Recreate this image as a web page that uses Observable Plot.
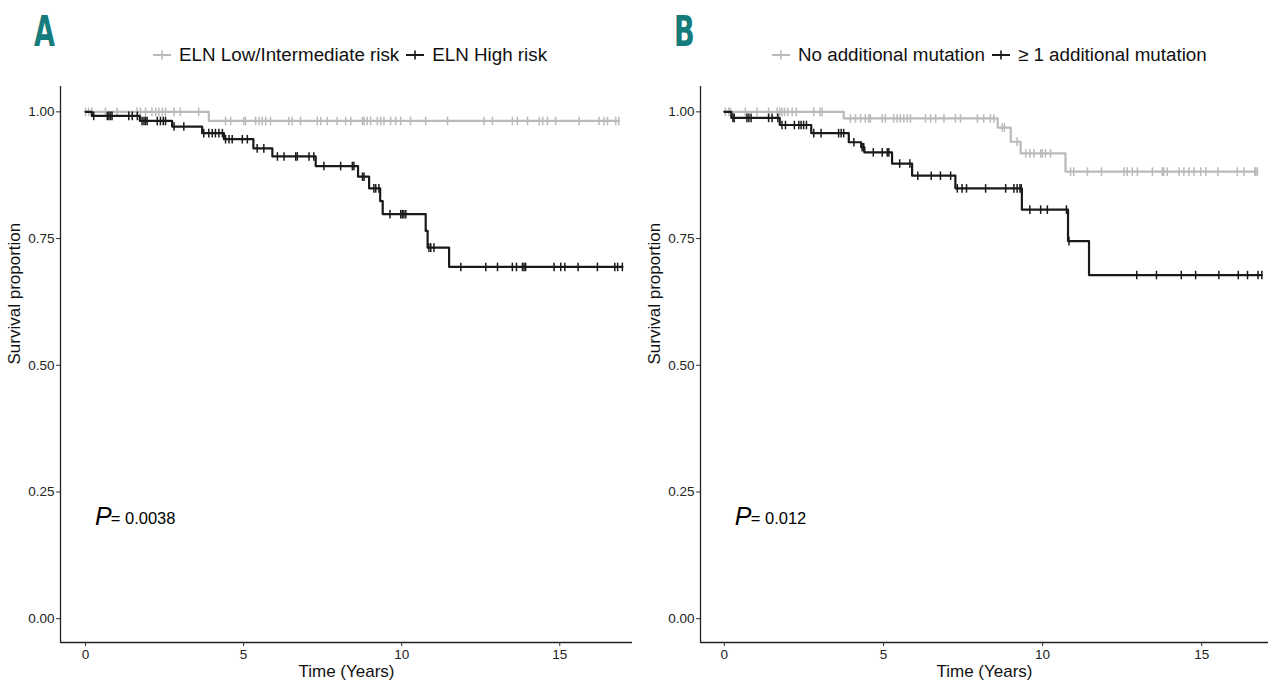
<!DOCTYPE html>
<html><head><meta charset="utf-8">
<script src="https://cdn.jsdelivr.net/npm/d3@7"></script>
<script src="https://cdn.jsdelivr.net/npm/@observablehq/plot@0.6"></script>
<style>
body{margin:0;background:#fff;font-family:"Liberation Sans",Arial,sans-serif;}
#wrap{display:flex;width:1280px;height:696px;overflow:hidden;}
.panel{width:640px;position:relative;}
.head{height:80px;position:relative;}
.letter{position:absolute;left:34px;top:6px;font-family:"DejaVu Sans Condensed","DejaVu Sans";font-weight:bold;font-size:43px;color:#157c7c;transform:scaleX(0.7);transform-origin:left top;}
.legend{position:absolute;top:45px;display:flex;align-items:center;font-size:18.8px;color:#111;white-space:nowrap;line-height:20px;}
.legend .item{display:flex;align-items:center;margin-right:7px;}
.legend svg{margin-right:8px;}
</style></head>
<body>
<div id="wrap">
  <div class="panel" id="pA"><div class="head"><div class="letter">A</div><div class="legend" id="legA" style="left:153px"></div></div></div>
  <div class="panel" id="pB"><div class="head"><div class="letter">B</div><div class="legend" id="legB" style="left:132px"></div></div></div>
</div>
<script>
// ---------- data ----------
const xTicks = [0, 5, 10, 15];
const yTicks = [0, 0.25, 0.5, 0.75, 1];

// Panel A
const A_names = ["ELN Low/Intermediate risk", "ELN High risk"];
const A_low_times = [0, 3.9];
const A_low_surv  = [1.0, 0.982];
const A_low_end = 16.87;
const A_low_censor = [0, 0.1, 0.2, 0.63, 1.0, 1.63, 1.74, 1.9, 2.1, 2.22, 2.32, 2.43, 2.53, 2.8, 3.0, 3.58, 4.43, 4.59, 5.01, 5.06, 5.38, 5.49, 5.59, 5.70, 5.85, 6.43, 6.54, 6.80, 7.33, 7.44, 7.65, 7.96, 8.23, 8.39, 8.76, 8.81, 8.91, 9.02, 9.23, 9.34, 9.44, 9.65, 9.81, 9.97, 10.28, 10.76, 11.45, 12.6, 12.87, 13.5, 13.66, 13.98, 14.35, 14.46, 14.61, 14.87, 15.61, 16.24, 16.40, 16.51, 16.77, 16.87];
const A_high_times = [0, 0.2, 1.72, 2.74, 3.69, 4.38, 5.31, 5.91, 7.28, 8.62, 8.97, 9.32, 9.4, 10.76, 10.82, 11.5];
const A_high_surv  = [1.0, 0.992, 0.982, 0.971, 0.958, 0.946, 0.928, 0.912, 0.893, 0.872, 0.849, 0.824, 0.798, 0.765, 0.732, 0.694];
const A_high_end = 16.98;
const A_high_censor = [0.26, 0.69, 0.74, 0.79, 0.84, 1.37, 1.48, 1.64, 1.79, 1.85, 1.90, 1.95, 2.27, 2.37, 2.46, 2.53, 2.80, 3.11, 3.74, 3.90, 4.01, 4.11, 4.22, 4.33, 4.43, 4.54, 4.64, 4.96, 5.12, 5.43, 5.64, 6.07, 6.28, 6.65, 6.70, 7.07, 7.22, 7.54, 8.07, 8.44, 8.49, 8.76, 8.81, 9.12, 9.18, 9.28, 9.63, 9.97, 10.02, 10.07, 10.13, 10.86, 10.92, 11.02, 11.87, 12.66, 13.03, 13.5, 13.63, 13.82, 13.87, 13.92, 14.82, 15.03, 15.16, 15.58, 16.19, 16.74, 16.83, 16.98];
const A_p = "0.0038";

// Panel B
const B_names = ["No additional mutation", "\u2265 1 additional mutation"];
const B_low_times = [0, 3.75, 8.59, 9.0, 9.31, 10.72];
const B_low_surv  = [1.0, 0.987, 0.969, 0.941, 0.918, 0.882];
const B_low_end = 16.75;
const B_low_censor = [0.03, 0.14, 0.19, 0.66, 1.03, 1.39, 1.66, 1.74, 1.81, 1.89, 1.99, 2.13, 2.26, 2.81, 3.0, 3.07, 3.96, 4.12, 4.28, 4.43, 4.54, 4.59, 4.96, 5.06, 5.32, 5.43, 5.53, 5.64, 5.75, 5.85, 6.32, 6.48, 6.64, 6.90, 7.26, 7.42, 7.95, 8.15, 8.36, 8.47, 8.73, 8.80, 9.2, 9.47, 9.60, 9.73, 9.94, 9.99, 10.09, 10.25, 10.88, 10.98, 11.41, 11.85, 12.56, 12.66, 12.82, 12.98, 13.45, 13.76, 13.81, 13.92, 14.29, 14.44, 14.60, 14.76, 14.97, 15.13, 15.51, 16.12, 16.33, 16.67, 16.70, 16.75];
const B_high_times = [0, 0.22, 1.74, 2.73, 3.91, 4.3, 4.4, 5.27, 5.90, 7.26, 9.35, 10.8, 11.46];
const B_high_surv  = [1.0, 0.988, 0.974, 0.958, 0.940, 0.930, 0.920, 0.898, 0.874, 0.849, 0.807, 0.745, 0.678];
const B_high_end = 16.89;
const B_high_censor = [0.27, 0.31, 0.71, 0.77, 0.84, 1.39, 1.50, 1.68, 1.81, 1.92, 2.20, 2.34, 2.41, 2.49, 2.58, 2.81, 3.04, 3.59, 3.67, 3.75, 4.07, 4.33, 4.38, 4.68, 4.96, 5.12, 5.17, 5.51, 5.83, 6.08, 6.50, 6.79, 7.11, 7.32, 7.47, 7.61, 8.21, 8.84, 9.10, 9.20, 9.29, 9.33, 9.60, 9.94, 10.15, 10.75, 10.83, 12.96, 13.58, 14.36, 14.81, 15.54, 16.15, 16.44, 16.77, 16.89];
const B_p = "0.012";

// ---------- styling ----------
const GREY = "#bababa", BLACK = "#1a1a1a";
const vbar = {draw(ctx, size){ const r = Math.sqrt(size / Math.PI); ctx.moveTo(0, -r); ctx.lineTo(0, r); }};

function stepData(times, surv, end){
  const pts = times.map((t, i) => ({t, s: surv[i]}));
  pts.push({t: end, s: surv[surv.length - 1]});
  return pts;
}
function censorData(times, surv, cens){
  return cens.map(t => {
    let i = 0;
    for (let k = 0; k < times.length; k++) if (times[k] <= t) i = k;
    return {t, s: surv[i]};
  });
}

function panel(curves, xdom, mr, pval, pPos){
  const marks = [];
  marks.push(Plot.ruleX([xdom[0]], {stroke: "#222", strokeWidth: 1.3}));
  marks.push(Plot.ruleY([-0.047], {stroke: "#222", strokeWidth: 1.3}));
  marks.push(Plot.axisX({ticks: xTicks, tickSize: 4, tickPadding: 3, label: null, stroke: "#333", fill: "#222"}));
  marks.push(Plot.axisY({ticks: yTicks, tickSize: 4, tickPadding: 2, tickFormat: d3.format(".2f"), label: null, stroke: "#333", fill: "#222"}));
  marks.push(Plot.text(["Time (Years)"], {frameAnchor: "bottom", dy: 34, fontSize: 17, fill: "#111"}));
  marks.push(Plot.text(["Survival proportion"], {frameAnchor: "left", dx: -46, rotate: -90, fontSize: 17, fill: "#111"}));
  for (const c of curves){
    marks.push(Plot.line(stepData(c.times, c.surv, c.end), {x: "t", y: "s", curve: "step-after", stroke: c.color, strokeWidth: 2.2}));
    marks.push(Plot.dot(censorData(c.times, c.surv, c.censor), {x: "t", y: "s", symbol: vbar, r: 4.3, stroke: c.color, strokeWidth: 1.5, fill: "none"}));
  }
  marks.push(Plot.text([{x: pPos[0], y: 0.2, t: "P"}], {x: "x", y: "y", text: "t", textAnchor: "start", fontSize: 25, fontStyle: "italic", fill: "#000"}));
  marks.push(Plot.text([{x: pPos[1], y: 0.2, t: "= " + pval}], {x: "x", y: "y", text: "t", textAnchor: "start", fontSize: 16.5, fill: "#000", dy: 1}));
  return Plot.plot({
    width: 640, height: 616,
    marginTop: 6, marginBottom: 54, marginLeft: 60, marginRight: mr,
    style: {fontFamily: "'Liberation Sans', Arial, sans-serif", fontSize: "13.5px", background: "#fff", overflow: "visible"},
    x: {domain: xdom},
    y: {domain: [-0.047, 1.05]},
    marks
  });
}

function legend(el, names){
  const cols = [GREY, BLACK];
  names.forEach((n, i) => {
    const item = document.createElement("div");
    item.className = "item";
    item.innerHTML = `<svg width="18" height="14"><line x1="0" x2="18" y1="7" y2="7" stroke="${cols[i]}" stroke-width="2"/><line x1="9" x2="9" y1="2.5" y2="11.5" stroke="${cols[i]}" stroke-width="1.6"/></svg><span>${n}</span>`;
    el.appendChild(item);
  });
}

legend(document.getElementById("legA"), A_names);
legend(document.getElementById("legB"), B_names);

document.getElementById("pA").appendChild(panel([
  {times: A_low_times, surv: A_low_surv, end: A_low_end, censor: A_low_censor, color: GREY},
  {times: A_high_times, surv: A_high_surv, end: A_high_end, censor: A_high_censor, color: BLACK}
], [-0.79, 17.3], 8, A_p, [0.3, 0.8]));

document.getElementById("pB").appendChild(panel([
  {times: B_low_times, surv: B_low_surv, end: B_low_end, censor: B_low_censor, color: GREY},
  {times: B_high_times, surv: B_high_surv, end: B_high_end, censor: B_high_censor, color: BLACK}
], [-0.75, 17.1], 12, B_p, [0.33, 0.83]));
</script>
</body></html>
